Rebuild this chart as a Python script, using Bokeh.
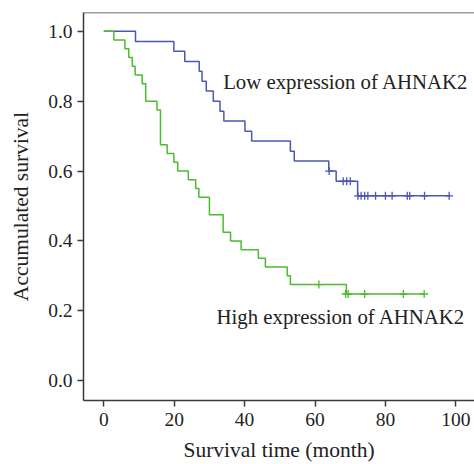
from bokeh.plotting import figure
from bokeh.models import Range1d, FixedTicker, Label, Span
from bokeh.embed import file_html
from bokeh.resources import INLINE

# Low expression of AHNAK2 (Kaplan-Meier steps)
low_time = [0, 9.0, 19.9, 23.0, 27.1, 27.9, 29.1, 31.1, 33.0, 34.1, 40.1, 42.0, 53.0, 54.1, 63.9, 66.0, 72.1, 98.3]
low_surv = [1.0, 0.971, 0.943, 0.914, 0.886, 0.857, 0.829, 0.800, 0.771, 0.743, 0.714, 0.686, 0.657, 0.629, 0.600, 0.571, 0.529, 0.529]
low_cens_time = [64.0, 68.0, 69.0, 70.0, 72.2, 73.1, 74.1, 75.0, 77.2, 80.0, 81.9, 86.2, 86.9, 91.1, 98.1]
low_cens_surv = [0.600, 0.571, 0.571, 0.571, 0.529, 0.529, 0.529, 0.529, 0.529, 0.529, 0.529, 0.529, 0.529, 0.529, 0.529]

# High expression of AHNAK2
high_time = [0, 2.85, 6.0, 7.1, 8.1, 8.9, 10.9, 11.9, 15.1, 16.1, 18.0, 19.9, 21.0, 24.0, 26.1, 27.0, 30.0, 33.9, 36.0, 39.0, 43.9, 45.9, 52.1, 53.0, 68.9, 91.0]
high_surv = [1.0, 0.975, 0.95, 0.925, 0.9, 0.875, 0.85, 0.8, 0.775, 0.675, 0.65, 0.625, 0.6, 0.575, 0.55, 0.525, 0.475, 0.425, 0.4, 0.375, 0.35, 0.325, 0.3, 0.275, 0.248, 0.248]
high_cens_time = [61.1, 68.7, 69.4, 74.1, 85.1, 91.0]
high_cens_surv = [0.275, 0.248, 0.248, 0.248, 0.248, 0.248]

x_ticks = [0, 20, 40, 60, 80, 100]
y_ticks = [0.0, 0.2, 0.4, 0.6, 0.8, 1.0]

BLUE = "#4a57b3"
GREEN = "#4cbb30"
AXIS = "#3a3a3a"
FONT = "Liberation Serif"

p = figure(width=474, height=464, output_backend="svg", toolbar_location=None,
           x_range=Range1d(-5.77, 105.3), y_range=Range1d(-0.057, 1.054),
           min_border_left=83, min_border_right=0, min_border_top=12, min_border_bottom=62)
p.outline_line_color = None
p.grid.visible = False
p.background_fill_color = "white"
p.border_fill_color = "white"

p.step(low_time, low_surv, mode="after", line_color=BLUE, line_width=1.5)
p.step(high_time, high_surv, mode="after", line_color=GREEN, line_width=1.5)
p.scatter(low_cens_time, low_cens_surv, marker="cross", size=8, line_color=BLUE, line_width=1.3)
p.scatter(high_cens_time, high_cens_surv, marker="cross", size=8, line_color=GREEN, line_width=1.3)

top = Span(location=1.054, dimension="width", line_color=AXIS, line_width=1.5)
p.add_layout(top)

for ax in (p.xaxis[0], p.yaxis[0]):
    ax.axis_line_color = AXIS
    ax.axis_line_width = 1.5
    ax.major_tick_line_color = AXIS
    ax.major_tick_line_width = 1.5
    ax.major_tick_out = 6
    ax.major_tick_in = 0
    ax.minor_tick_line_color = None
    ax.major_label_text_font = FONT
    ax.major_label_text_font_size = "19.5px"
    ax.major_label_text_color = "#222222"
    ax.axis_label_text_font = FONT
    ax.axis_label_text_font_size = "21.5px"
    ax.axis_label_text_font_style = "normal"
    ax.axis_label_text_color = "#222222"

p.xaxis.ticker = FixedTicker(ticks=x_ticks)
p.yaxis.ticker = FixedTicker(ticks=y_ticks)
p.yaxis.major_label_overrides = {0.0: "0.0", 0.2: "0.2", 0.4: "0.4", 0.6: "0.6", 0.8: "0.8", 1.0: "1.0"}
p.xaxis.axis_label = "Survival time (month)"
p.yaxis.axis_label = "Accumulated survival"
p.xaxis.major_label_standoff = 6
p.xaxis.axis_label_standoff = 9
p.yaxis.major_label_standoff = 5
p.yaxis.axis_label_standoff = 12

p.add_layout(Label(x=33.9, y=0.855, text="Low expression of AHNAK2", text_font=FONT,
                   text_font_size="20.8px", text_color="#222222", text_baseline="alphabetic"))
p.add_layout(Label(x=32.0, y=0.184, text="High expression of AHNAK2", text_font=FONT,
                   text_font_size="20.8px", text_color="#222222", text_baseline="alphabetic"))

open("out.html", "w").write(file_html(p, INLINE))
